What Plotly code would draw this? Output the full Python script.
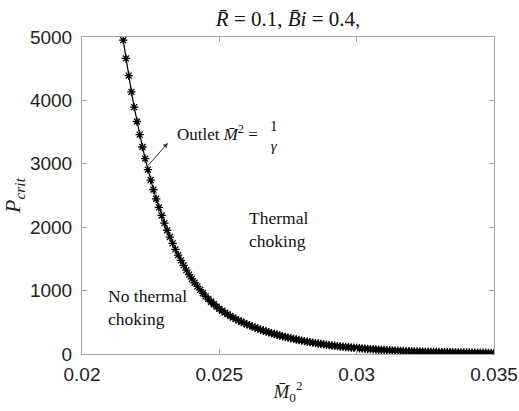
import plotly.graph_objects as go

# Mach number squared at inlet (M0^2) and critical P values
m0_sq = [
    0.0215, 0.0216, 0.0217, 0.0218, 0.0219, 0.0220, 0.0221, 0.0222, 0.0223, 0.0224,
    0.0225, 0.0226, 0.0227, 0.0228, 0.0229, 0.0230, 0.0231, 0.0232, 0.0233, 0.0234,
    0.0235, 0.0236, 0.0237, 0.0238, 0.0239, 0.0240, 0.0241, 0.0242, 0.0243, 0.0244,
    0.0245, 0.0246, 0.0247, 0.0248, 0.0249, 0.0250, 0.0251, 0.0252, 0.0253, 0.0254,
    0.0255, 0.0256, 0.0257, 0.0258, 0.0259, 0.0260, 0.0261, 0.0262, 0.0263, 0.0264,
    0.0265, 0.0266, 0.0267, 0.0268, 0.0269, 0.0270, 0.0271, 0.0272, 0.0273, 0.0274,
    0.0275, 0.0276, 0.0277, 0.0278, 0.0279, 0.0280, 0.0281, 0.0282, 0.0283, 0.0284,
    0.0285, 0.0286, 0.0287, 0.0288, 0.0289, 0.0290, 0.0291, 0.0292, 0.0293, 0.0294,
    0.0295, 0.0296, 0.0297, 0.0298, 0.0299, 0.0300, 0.0301, 0.0302, 0.0303, 0.0304,
    0.0305, 0.0306, 0.0307, 0.0308, 0.0309, 0.0310, 0.0311, 0.0312, 0.0313, 0.0314,
    0.0315, 0.0316, 0.0317, 0.0318, 0.0319, 0.0320, 0.0321, 0.0322, 0.0323, 0.0324,
    0.0325, 0.0326, 0.0327, 0.0328, 0.0329, 0.0330, 0.0331, 0.0332, 0.0333, 0.0334,
    0.0335, 0.0336, 0.0337, 0.0338, 0.0339, 0.0340, 0.0341, 0.0342, 0.0343, 0.0344,
    0.0345, 0.0346, 0.0347, 0.0348, 0.0349, 0.0350,
]
p_crit = [
    4950, 4662, 4391, 4135, 3894, 3667, 3460, 3265, 3081, 2908,
    2744, 2592, 2448, 2313, 2185, 2064, 1952, 1845, 1745, 1650,
    1560, 1477, 1398, 1323, 1252, 1185, 1124, 1066, 1011, 959,
    909, 866, 824, 785, 747, 712, 682, 653, 626, 599,
    574, 551, 530, 509, 489, 470, 452, 434, 417, 401,
    385, 370, 355, 341, 328, 315, 303, 291, 279, 268,
    258, 248, 238, 229, 220, 211, 203, 194, 187, 179,
    172, 165, 158, 152, 146, 140, 135, 129, 124, 119,
    115, 110, 106, 102, 98, 94, 90, 87, 83, 80,
    77, 74, 71, 68, 65, 63, 61, 58, 56, 54,
    52, 50, 48, 46, 45, 43, 41.5, 40, 38.5, 37,
    36, 35, 34, 33, 32, 31, 30, 29, 28.5, 27.5,
    27, 26, 25, 24.5, 23.5, 23, 22.5, 22, 21, 20.5,
    20, 19.5, 19, 18.5, 18, 18,
]

x_ticks = [0.02, 0.025, 0.03, 0.035]
x_tick_labels = ["0.02", "0.025", "0.03", "0.035"]
y_ticks = [0, 1000, 2000, 3000, 4000, 5000]
y_tick_labels = ["0", "1000", "2000", "3000", "4000", "5000"]

serif = "Liberation Serif"
sans = "Liberation Sans"
axis_col = "#a6a6a6"

fig = go.Figure()
fig.add_trace(go.Scatter(
    x=m0_sq, y=p_crit, mode="lines+markers",
    line=dict(color="black", width=1.2),
    marker=dict(symbol="asterisk-open", size=7, color="black",
                line=dict(color="black", width=1.3)),
    showlegend=False,
))

common = dict(showline=True, mirror="ticks", linecolor=axis_col, linewidth=1,
              ticks="inside", ticklen=5, tickcolor=axis_col, showgrid=False,
              zeroline=False, automargin=False,
              tickfont=dict(family=sans, size=19, color="#222"))

fig.update_xaxes(range=[0.02, 0.035], tickvals=x_ticks, ticktext=x_tick_labels,
                 ticklabelstandoff=3,
                 title=dict(text="<i>M̄</i><sub>0</sub><sup>2</sup>",
                            font=dict(family=serif, size=19, color="#222"),
                            standoff=0),
                 **common)
fig.update_yaxes(range=[0, 5000], tickvals=y_ticks, ticktext=y_tick_labels,
                 ticklabelstandoff=5,
                 title=dict(text="<i>P</i><sub><i>crit</i></sub>",
                            font=dict(family=serif, size=22, color="#222"),
                            standoff=4),
                 **common)

fig.add_annotation(x=0.023128, y=3330, ax=0.02238, ay=2960, xref="x", yref="y",
                   axref="x", ayref="y", text="", showarrow=True,
                   arrowhead=2, arrowsize=1, arrowwidth=1, arrowcolor="#333")
fig.add_annotation(x=0.02338, y=3483, xref="x", yref="y", xanchor="left",
                   yanchor="middle", showarrow=False,
                   text="Outlet <i>M̄</i><sup>2</sup> =",
                   font=dict(family=serif, size=17, color="#111"))
fig.add_annotation(x=0.02698, y=3440, xref="x", yref="y", xanchor="center",
                   yanchor="middle", showarrow=False,
                   text="1<br><i>γ</i>",
                   font=dict(family=serif, size=15, color="#111"))
fig.add_annotation(x=0.02600, y=1970, xref="x", yref="y", xanchor="left",
                   yanchor="middle", showarrow=False, align="left",
                   text="Thermal<br>choking",
                   font=dict(family=serif, size=17.5, color="#111"))
fig.add_annotation(x=0.02089, y=730, xref="x", yref="y", xanchor="left",
                   yanchor="middle", showarrow=False, align="left",
                   text="No thermal<br>choking",
                   font=dict(family=serif, size=17.5, color="#111"))

fig.update_layout(
    width=519, height=411,
    margin=dict(l=82, r=25, t=37, b=57),
    paper_bgcolor="white", plot_bgcolor="white",
    title=dict(text="<i>R̄</i> = 0.1, <i>B̄i</i> = 0.4,",
               font=dict(family=serif, size=21, color="#111"),
               x=0.555, xanchor="center", y=0.955, yanchor="middle"),
)

fig.write_html("out.html", config={"displayModeBar": False},
               post_script="document.body.style.margin='0px';")
